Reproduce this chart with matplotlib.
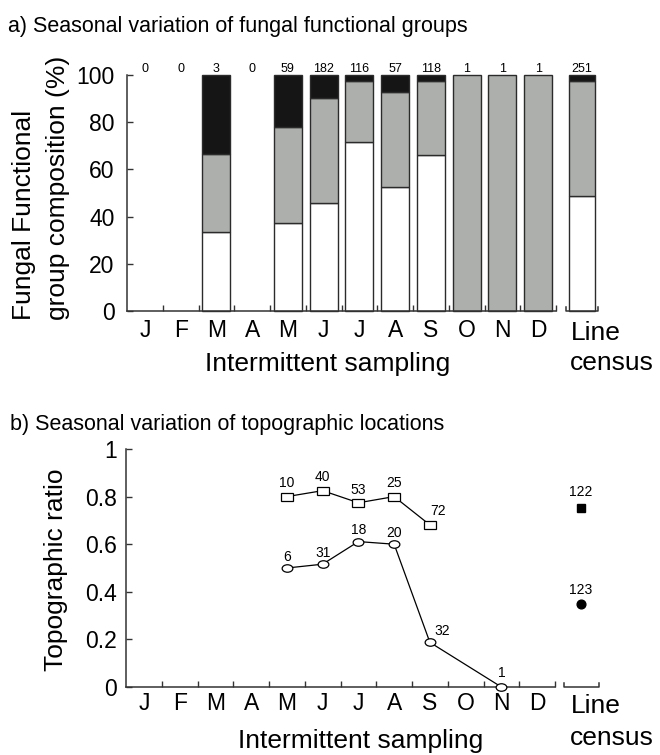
import matplotlib

matplotlib.use("Agg")
import matplotlib.pyplot as plt
from matplotlib.markers import MarkerStyle
from matplotlib.transforms import Affine2D

plt.rcParams["font.family"] = ["Liberation Sans", "DejaVu Sans"]

# ---- dados ----
meses = ["J", "F", "M", "A", "M", "J", "J", "A", "S", "O", "N", "D"]

# a) composição dos grupos funcionais (%) por mês
n_fungos = [0, 0, 3, 0, 59, 182, 116, 57, 118, 1, 1, 1]
pct_branco = [0, 0, 33.33, 0, 37.3, 45.6, 71.6, 52.6, 66.1, 0, 0, 0]
pct_cinza = [0, 0, 33.33, 0, 40.7, 44.5, 25.8, 40.4, 31.4, 100, 100, 100]
pct_preto = [0, 0, 33.34, 0, 22.0, 9.9, 2.6, 7.0, 2.5, 0, 0, 0]
# censo em linha
n_censo = 251
censo_branco, censo_cinza, censo_preto = 48.6, 49.0, 2.4

# b) razão topográfica
mes_quad = [4, 5, 6, 7, 8]
razao_quad = [0.80, 0.825, 0.774, 0.80, 0.681]
n_quad = [10, 40, 53, 25, 72]
mes_circ = [4, 5, 6, 7, 8, 10]
razao_circ = [0.50, 0.516, 0.611, 0.60, 0.1875, 0.0]
n_circ = [6, 31, 18, 20, 32, 1]
censo_quad, n_censo_quad = 0.754, 122
censo_circ, n_censo_circ = 0.35, 123

W, H = 660, 755
CINZA = "#adafad"
PRETO = "#151515"
EIXO = "#333333"
X_CENSO = 12.72


def fx(px):
    return px / W


def fy(py):
    return 1 - py / H


def estilo_eixo(ax, ypad):
    for lado in ("top", "right"):
        ax.spines[lado].set_visible(False)
    for lado in ("left", "bottom"):
        ax.spines[lado].set_color(EIXO)
        ax.spines[lado].set_linewidth(1.1)
    ax.spines["bottom"].set_bounds(0, 12)
    ax.set_xlim(0, 13.3)
    ax.set_xticks([i + 0.5 for i in range(12)])
    ax.set_xticklabels(meses, fontsize=16.5)
    ax.set_xticks(range(1, 13), minor=True)
    ax.tick_params(axis="x", which="major", length=0)
    ax.tick_params(axis="x", which="minor", direction="in", length=4, width=1, color=EIXO)
    ax.tick_params(axis="y", direction="in", length=4, width=1, color=EIXO,
                   labelsize=16.5, pad=ypad)


fig = plt.figure(figsize=(W / 100, H / 100), dpi=100)

# ---------- a) ----------
ax1 = fig.add_axes([fx(127), fy(311), fx(475.5), (311 - 75) / H])
estilo_eixo(ax1, 9)
ax1.set_ylim(0, 100)
ax1.set_yticks([0, 20, 40, 60, 80, 100])
ax1.tick_params(axis="x", which="major", pad=5.5)

x_meses = [i + 0.5 for i in range(12)]
for x, n, b, c, p in zip(x_meses, n_fungos, pct_branco, pct_cinza, pct_preto):
    ax1.text(x, 100, str(n), ha="center", va="bottom", fontsize=9)
    if n == 0:
        continue
    base = 0
    for h, cor in ((b, "white"), (c, CINZA), (p, PRETO)):
        if h > 0:
            ax1.bar(x, h, bottom=base, width=0.78, color=cor, edgecolor="#2b2b2b",
                    linewidth=1.0, clip_on=False)
        base += h
base = 0
for h, cor in ((censo_branco, "white"), (censo_cinza, CINZA), (censo_preto, PRETO)):
    ax1.bar(X_CENSO, h, bottom=base, width=0.72, color=cor, edgecolor="#2b2b2b",
            linewidth=1.0, clip_on=False)
    base += h
ax1.text(X_CENSO, 100, str(n_censo), ha="center", va="bottom", fontsize=9)
ax1.plot([12.28, 12.28, 13.17, 13.17], [1.7, 0, 0, 1.7], color=EIXO, lw=1.1,
         clip_on=False)

# ---------- b) ----------
ax2 = fig.add_axes([fx(126), fy(687), fx(475.5), (687 - 449) / H])
estilo_eixo(ax2, 6.5)
ax2.set_ylim(0, 1)
ax2.set_yticks([0, 0.2, 0.4, 0.6, 0.8, 1])
ax2.set_yticklabels(["0", "0.2", "0.4", "0.6", "0.8", "1"])
ax2.tick_params(axis="x", which="major", pad=3.5)

elipse = MarkerStyle("o", transform=Affine2D().scale(1.0, 0.7))
retang = MarkerStyle("s", transform=Affine2D().scale(1.0, 0.73))
xq = [m + 0.5 for m in mes_quad]
xc = [m + 0.5 for m in mes_circ]
ax2.plot(xq, razao_quad, color="black", lw=0.9, marker=retang, ms=8.3,
         mfc="white", mec="black", mew=0.9, clip_on=False, zorder=3)
ax2.plot(xc, razao_circ, color="black", lw=0.9, marker=elipse, ms=7.7,
         mfc="white", mec="black", mew=0.9, clip_on=False, zorder=3)
ax2.plot([X_CENSO], [censo_quad], marker="s", ms=5.8, color="black", ls="none")
ax2.plot([X_CENSO], [censo_circ], marker="o", ms=6.3, color="black", ls="none")

desloc_quad = {72: (6, 5)}
desloc_circ = {32: (9, 3), 1: (0, 5)}
for x, y, n in zip(xq, razao_quad, n_quad):
    ax2.annotate(str(n), (x, y), xytext=desloc_quad.get(n, (0, 4.5)),
                 textcoords="offset points", ha="center", va="bottom", fontsize=10)
for x, y, n in zip(xc, razao_circ, n_circ):
    ax2.annotate(str(n), (x, y), xytext=desloc_circ.get(n, (0, 3)),
                 textcoords="offset points", ha="center", va="bottom", fontsize=10)
ax2.annotate(str(n_censo_quad), (X_CENSO, censo_quad), xytext=(0, 6),
             textcoords="offset points", ha="center", va="bottom", fontsize=10)
ax2.annotate(str(n_censo_circ), (X_CENSO, censo_circ), xytext=(0, 5),
             textcoords="offset points", ha="center", va="bottom", fontsize=10)
ax2.plot([12.24, 12.24, 13.24, 13.24], [0.017, 0, 0, 0.017], color=EIXO, lw=1.1,
         clip_on=False)

# ---------- textos ----------
fig.text(fx(8), fy(32), "a) Seasonal variation of fungal functional groups",
         fontsize=15.5, va="baseline", ha="left")
fig.text(fx(10), fy(430), "b) Seasonal variation of topographic locations",
         fontsize=15.5, va="baseline", ha="left")

fig.text(fx(31.5), fy(320), "Fungal Functional", rotation=90, rotation_mode="anchor",
         ha="left", va="baseline", fontsize=19)
fig.text(fx(64.5), fy(320), "group composition (%)", rotation=90,
         rotation_mode="anchor", ha="left", va="baseline", fontsize=19)
fig.text(fx(63), fy(570), "Topographic ratio", rotation=90, rotation_mode="anchor",
         ha="center", va="baseline", fontsize=19)

fig.text(fx(205), fy(371), "Intermittent sampling", fontsize=19, va="baseline")
fig.text(fx(238), fy(748), "Intermittent sampling", fontsize=19, va="baseline")
for base_linha, base_censo in ((340, 370), (713, 745)):
    fig.text(fx(571), fy(base_linha), "Line", fontsize=19, va="baseline")
    fig.text(fx(570), fy(base_censo), "census", fontsize=19, va="baseline")

fig.savefig("out.png", dpi=100)
